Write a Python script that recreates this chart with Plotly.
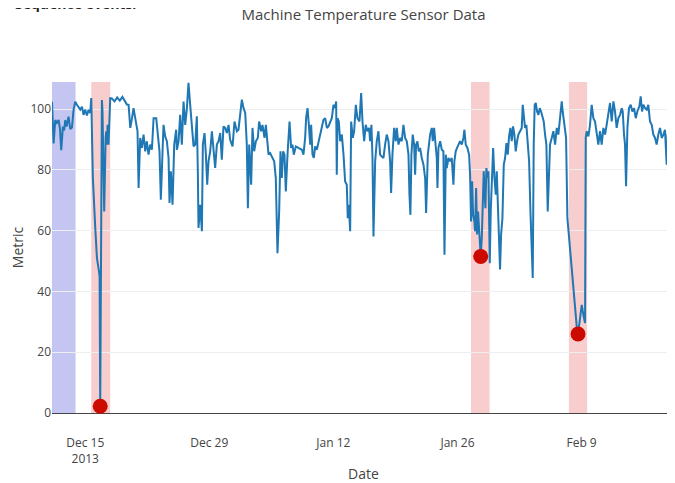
import pandas as pd
import plotly.graph_objects as go

# ---- data ----
# time is given as days elapsed since 2013-12-15 00:00
BASE = pd.Timestamp("2013-12-15")

days = [
    -3.75, -3.57, -3.38, -3.2, -3.0, -2.85, -2.71, -2.52, -2.38, -2.25, -2.1, -1.88, -1.69, -1.5, -1.32,
    -1.13, -0.94, -0.75, -0.56, -0.37, -0.19, 0.0, 0.19, 0.38, 0.56, 0.68,
    0.86, 1.13, 1.32, 1.55, 1.62, 1.69, 1.8, 1.88, 1.95, 2.14, 2.3, 2.37, 2.45, 2.52, 2.63, 2.72, 2.82,
    3.0, 3.3, 3.6, 3.9, 4.2, 4.5, 4.7, 4.89,
    5.08, 5.25, 5.45, 5.64, 5.9, 6.02, 6.2, 6.39, 6.58, 6.77, 6.95, 7.14, 7.33, 7.52, 7.71, 8.01, 8.16,
    8.38, 8.53, 8.68, 8.83, 9.02, 9.21, 9.4, 9.51, 9.66, 9.85, 10.04, 10.26,
    10.34, 10.53, 10.71, 10.9, 11.09, 11.28, 11.47, 11.65, 11.84, 12.03, 12.22, 12.41, 12.59, 12.71, 12.78,
    12.97, 13.16, 13.27, 13.46, 13.61, 13.76, 13.91, 14.1, 14.29, 14.47, 14.66, 14.85, 15.04, 15.23, 15.41,
    15.6, 15.79, 15.98, 16.17, 16.35, 16.62, 16.84, 17.11, 17.29, 17.48, 17.67, 17.86, 18.05, 18.23, 18.35,
    18.5, 18.72, 18.87, 19.06, 19.25, 19.47, 19.62, 19.85, 20.0, 20.23, 20.38, 20.53, 20.68, 20.86, 21.05,
    21.32, 21.5, 21.62, 21.69, 21.88, 22.03, 22.18, 22.33, 22.48, 22.63, 22.82, 23.05, 23.23, 23.38, 23.53,
    23.76, 24.06, 24.36,
    24.44, 24.62, 24.81, 24.92, 25.08, 25.23, 25.38, 25.49, 25.64, 25.79, 25.94, 26.13, 26.32, 26.5, 26.69,
    26.88, 27.07, 27.26, 27.44, 27.63, 27.82, 28.01, 28.2, 28.31, 28.38, 28.46, 28.61, 28.76, 28.95, 29.14,
    29.32, 29.51, 29.62, 29.74, 29.89, 30.0, 30.19, 30.34, 30.53, 30.71, 30.94, 31.13, 31.28, 31.47, 31.65,
    31.84, 32.03, 32.14, 32.29, 32.41, 32.52, 32.71, 32.89, 33.08, 33.27, 33.46, 33.65, 33.83, 34.02, 34.21,
    34.4, 34.51, 34.66, 34.85, 35.04, 35.15, 35.34, 35.53, 35.71, 35.9, 36.09, 36.28, 36.47, 36.58, 36.69,
    36.8, 36.95, 37.11, 37.22, 37.33, 37.48, 37.63, 37.78, 37.97, 38.16, 38.35,
    38.46, 38.65, 38.8, 38.91, 39.1, 39.21, 39.36, 39.55, 39.66, 39.74, 39.85, 40.04, 40.23, 40.41, 40.53,
    40.68, 40.79, 40.98, 41.17, 41.35, 41.54, 41.65, 41.8, 41.95, 42.11, 42.29, 42.48, 42.67, 42.78, 42.93,
    43.12, 43.31, 43.42, 43.53, 43.65, 43.76, 43.91, 43.98, 44.1, 44.21, 44.32, 44.44, 44.55, 44.62, 44.74,
    44.85, 44.96, 45.04, 45.15, 45.26, 45.38, 45.49, 45.56, 45.64, 45.75, 45.86, 46.02, 46.17, 46.32, 46.43,
    46.54, 46.65, 46.8, 46.92, 47.07, 47.22, 47.37, 47.52, 47.67, 47.82, 47.97, 48.12, 48.27, 48.42, 48.57,
    48.72, 48.87, 49.06, 49.25, 49.36, 49.47, 49.62, 49.77, 49.92, 50.08, 50.23, 50.38, 50.49, 50.6, 50.71,
    50.83, 50.98, 51.13, 51.28, 51.43, 51.58, 51.73, 51.88, 52.03, 52.18, 52.33, 52.44,
    52.63, 52.82, 53.01, 53.2, 53.38, 53.57, 53.76, 53.87, 54.02, 54.14, 54.25, 54.4, 54.7, 55.08, 55.45,
    55.6, 55.83, 56.02, 56.2, 56.39, 56.47, 56.58, 56.77, 56.95, 57.14, 57.33, 57.52, 57.71, 57.89, 58.08,
    58.27, 58.46, 58.65, 58.83, 59.02, 59.21, 59.4, 59.59, 59.77, 59.96, 60.15, 60.34, 60.53, 60.64, 60.79,
    60.9, 61.02, 61.17, 61.35, 61.54, 61.73, 61.92, 62.11, 62.29, 62.52, 62.67, 62.82, 62.97, 63.16, 63.35,
    63.53, 63.72, 63.91, 64.1, 64.29, 64.47, 64.66, 64.85, 65.04, 65.23, 65.41, 65.6, 65.71, 65.9, 66.05,
    66.2, 66.35, 66.54,
]

metric = [
    102.4, 88.7, 96.4, 95.5, 96.4, 93.5, 86.5, 94.2, 93.0, 96.4, 94.2, 97.5, 93.4, 93.9, 99.7,
    102.4, 101.4, 100.5, 99.8, 100.8, 98.1, 99.8, 97.9, 99.8, 98.7, 103.6,
    77.3, 60.9, 51.0, 46.6, 45.0, 2.2, 101.4, 103.0, 99.2, 66.3, 90.5, 92.7, 88.3, 94.8, 88.3, 95.5, 103.6,
    103.5, 102.5, 103.8, 102.8, 104.0, 102.6, 101.5, 101.4,
    93.8, 96.5, 100.3, 97.0, 92.7, 74.0, 90.5, 87.2, 91.6, 86.1, 89.4, 85.0, 88.3, 86.6, 97.0, 97.0, 91.6,
    86.1, 70.2, 82.8, 94.8, 91.0, 89.4, 83.9, 69.1, 79.5, 68.5, 88.3, 93.2,
    86.6, 89.4, 98.1, 88.3, 102.5, 94.8, 100.3, 108.6, 101.4, 94.8, 87.7, 88.3, 97.6, 78.4, 60.9,
    68.5, 59.8, 88.3, 92.1, 85.0, 75.1, 82.8, 86.1, 92.7, 86.1, 80.6, 88.3, 89.4, 92.1, 83.3,
    94.3, 93.8, 92.1, 94.8, 89.9, 87.7, 95.9, 92.7, 93.2, 98.1, 103.1, 100.3, 98.7, 88.3, 67.4,
    88.3, 75.1, 93.8, 86.1, 89.4, 90.5, 95.9, 92.7, 94.8, 90.5, 94.8, 90.5, 85.0, 85.5, 84.4,
    82.8, 77.3, 64.1, 52.6, 66.3, 86.1, 77.3, 86.1, 85.0, 72.9, 85.0, 95.9, 87.2, 88.3, 85.0,
    87.7, 87.2, 86.6,
    86.6, 85.0, 90.5, 97.0, 100.3, 94.8, 88.3, 94.8, 85.0, 83.9, 87.7, 86.6, 89.4, 91.0, 93.8,
    96.5, 97.0, 93.8, 94.3, 95.9, 97.0, 101.4, 100.3, 102.5, 78.4, 97.0, 95.9, 89.4, 91.6, 85.0,
    76.2, 75.1, 64.1, 68.5, 59.8, 95.9, 90.5, 92.7, 101.4, 97.0, 95.9, 105.3, 95.9, 89.4, 94.8,
    92.7, 93.8, 89.4, 94.8, 83.9, 58.1, 82.8, 89.4, 92.7, 85.0, 84.4, 83.9, 88.3, 91.6, 89.4,
    82.8, 72.4, 85.0, 93.8, 89.4, 93.8, 88.3, 90.5, 89.4, 94.8, 90.5, 89.4, 85.0, 71.8, 65.2,
    85.0, 91.6, 88.3, 78.4, 88.3, 89.4, 86.1, 87.2, 83.9, 81.7, 77.3,
    65.8, 85.0, 88.3, 91.6, 93.8, 89.4, 93.8, 88.3, 83.9, 74.0, 87.2, 89.4, 86.6, 86.1, 52.1,
    85.0, 80.6, 83.9, 82.8, 83.9, 75.1, 82.8, 86.1, 87.2, 88.3, 89.4, 88.3, 90.5, 93.2, 88.3,
    87.2, 85.0, 78.4, 63.0, 76.2, 65.2, 63.0, 59.8, 74.0, 58.7, 66.3, 59.8, 57.6, 51.5, 57.6,
    68.5, 79.5, 74.0, 67.4, 80.6, 77.3, 79.5, 64.1, 49.3, 66.3, 77.3, 87.2, 77.3, 71.8, 79.5,
    70.7, 57.6, 47.2, 58.7, 64.1, 81.7, 83.9, 88.8, 85.0, 91.0, 93.8, 89.4, 94.3, 91.6, 86.1,
    89.4, 91.6, 92.7, 93.8, 101.4, 98.1, 93.8, 94.8, 89.4, 82.8, 66.3, 55.4, 44.4, 88.3, 101.4,
    102.0, 99.2, 98.1, 100.3, 99.2, 97.0, 95.9, 91.6, 88.3, 66.3, 81.7, 88.3,
    90.5, 92.7, 88.3, 93.8, 91.6, 97.0, 102.5, 99.2, 95.9, 93.8, 90.5, 64.1, 53.2, 40.0, 28.5,
    26.0, 31.2, 35.6, 32.3, 29.6, 90.5, 92.7, 91.0, 94.8, 101.4, 97.0, 95.9, 92.7, 88.3, 92.7,
    88.3, 93.8, 91.6, 94.8, 98.1, 102.0, 95.9, 102.5, 99.2, 93.8, 97.0, 98.1, 100.3, 99.2, 91.6,
    88.3, 74.6, 93.8, 100.3, 101.4, 99.2, 100.3, 97.0, 99.2, 100.9, 104.2, 99.2, 101.4, 100.3, 99.8,
    101.4, 95.9, 94.8, 91.6, 90.5, 88.3, 91.6, 93.8, 90.5, 91.6, 93.2, 81.7, 91.6, 92.7, 90.5,
    91.6, 91.0, 92.1,
]

# detected anomalies (red dots)
anomaly_days = [1.69, 44.62, 55.6]
anomaly_values = [2.2, 51.5, 26.0]

# shaded windows [start_day, end_day]
probation_window = [-3.75, -1.09]
anomaly_windows = [[0.68, 2.82], [43.52, 45.62], [54.57, 56.63]]

# x tick positions (days since base) and labels
tick_days = [0, 14, 28, 42, 56]
tick_labels = ["Dec 15<br>2013", "Dec 29", "Jan 12", "Jan 26", "Feb 9"]

title_text = "Machine Temperature Sensor Data"
x_title = "Date"
y_title = "Metric"
clipped_note = "<b>Sequence events.</b>"


def to_time(d):
    return BASE + pd.to_timedelta(d, unit="D")


times = [to_time(d) for d in days]
anomaly_times = [to_time(d) for d in anomaly_days]

fig = go.Figure()
fig.add_trace(go.Scatter(
    x=times, y=metric, mode="lines",
    line=dict(color="#1f77b4", width=2),
    showlegend=False, hoverinfo="x+y",
))
fig.add_trace(go.Scatter(
    x=anomaly_times, y=anomaly_values, mode="markers",
    marker=dict(color="#cc0a00", size=15),
    showlegend=False, cliponaxis=False,
))

shapes = [dict(
    type="rect", xref="x", yref="paper",
    x0=to_time(probation_window[0]), x1=to_time(probation_window[1]),
    y0=0, y1=1, fillcolor="rgba(110,110,220,0.4)", line=dict(width=0), layer="below",
)]
for w in anomaly_windows:
    shapes.append(dict(
        type="rect", xref="x", yref="paper",
        x0=to_time(w[0]), x1=to_time(w[1]), y0=0, y1=1,
        fillcolor="rgba(230,90,90,0.3)", line=dict(width=0), layer="below",
    ))

H = 475
fig.update_layout(
    width=667, height=H,
    margin=dict(l=44, r=0, t=74, b=70, autoexpand=False),
    paper_bgcolor="white", plot_bgcolor="white",
    font=dict(family="Open Sans, verdana, arial, sans-serif", color="#444", size=12),
    title=dict(text=title_text, x=0.5, xref="paper", y=1 - 7 / H, yref="container",
               yanchor="middle", font=dict(size=15)),
    shapes=shapes,
    annotations=[dict(
        text=clipped_note, xref="paper", yref="paper", x=-0.0626, y=1.2024,
        xanchor="left", yanchor="bottom", showarrow=False,
        font=dict(size=14, color="#222"),
    )],
    xaxis=dict(
        title=dict(text=x_title, font=dict(size=14), standoff=5),
        showgrid=False, zeroline=False, showline=False, automargin=False,
        tickvals=[to_time(d) for d in tick_days], ticktext=tick_labels,
        ticks="", ticklabelstandoff=21,
        range=[to_time(days[0]), to_time(days[-1])],
    ),
    yaxis=dict(
        title=dict(text=y_title, font=dict(size=14), standoff=5),
        range=[0, 108.9], dtick=20, gridcolor="#eee", automargin=False,
        zeroline=True, zerolinecolor="#444", zerolinewidth=1,
        showline=False, ticks="",
    ),
)

fig.write_html("out.html")
